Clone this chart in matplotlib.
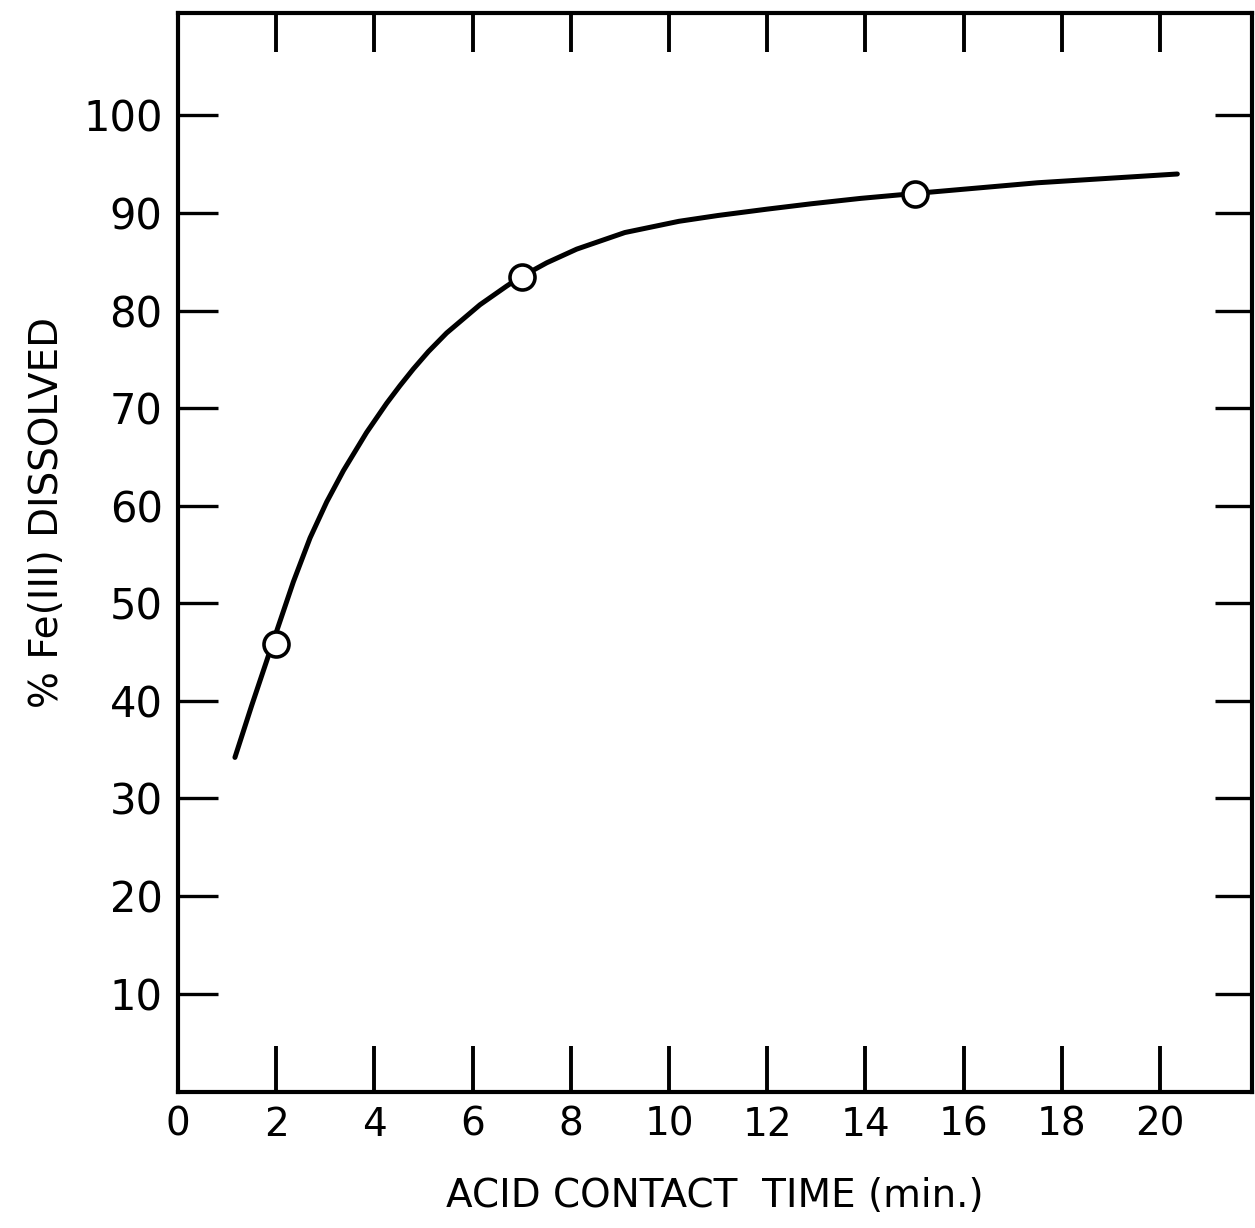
import numpy as np
import matplotlib
matplotlib.use("Agg")
import matplotlib.pyplot as plt

# measured points
pts_x = [2, 7, 15]
pts_y = [45.8, 83.4, 92.0]

# hand drawn curve
curve_x = [1.16, 1.5, 1.8, 2.0, 2.35, 2.69, 3.03, 3.37, 3.84, 4.25, 4.52, 4.79,
           5.1, 5.47, 6.15, 6.69, 6.93, 7.51, 8.12, 9.1, 10.2, 11.0, 12.0,
           12.9, 13.9, 15.0, 17.5, 20.35]
curve_y = [34.2, 39.5, 44.0, 47.0, 52.2, 56.7, 60.4, 63.6, 67.5, 70.5, 72.3, 74.0,
           75.8, 77.7, 80.6, 82.5, 83.3, 84.9, 86.3, 88.0, 89.15, 89.75, 90.4,
           90.95, 91.5, 92.0, 93.1, 94.0]

x_ticks = [0, 2, 4, 6, 8, 10, 12, 14, 16, 18, 20]
y_ticks = [10, 20, 30, 40, 50, 60, 70, 80, 90, 100]

plt.rcParams['font.family'] = ['DejaVu Sans']

fig = plt.figure(figsize=(12.55, 12.28), dpi=100)
ax = fig.add_axes([0.1418, 0.1107, 0.8558, 0.8787])

ax.plot(curve_x, curve_y, color='k', lw=3.6, solid_capstyle='round',
        solid_joinstyle='round', zorder=2)
ax.plot(pts_x, pts_y, 'o', ms=18, mfc='white', mec='k', mew=2.6, zorder=3)

ax.set_xlim(0, 21.87)
ax.set_ylim(-0.1, 110.5)

for s in ax.spines.values():
    s.set_linewidth(3.0)

ax.set_xticks(x_ticks)
ax.set_xticklabels([str(v) for v in x_ticks], fontsize=28)
ax.set_yticks(y_ticks)
ax.set_yticklabels([str(v) for v in y_ticks], fontsize=30)
ax.tick_params(axis='x', direction='in', length=33, width=2.8, pad=10)
ax.tick_params(axis='y', direction='in', length=29, width=2.4, pad=11)

top = ax.secondary_xaxis('top')
top.set_xticks(x_ticks)
top.tick_params(direction='in', length=28, width=2.8, labeltop=False)
right = ax.secondary_yaxis('right')
right.set_yticks(y_ticks)
right.tick_params(direction='in', length=27, width=2.4, labelright=False)

ax.set_xlabel('ACID CONTACT  TIME (min.)', fontsize=28, labelpad=24)
ax.set_ylabel('% Fe(III) DISSOLVED', fontsize=28)
ax.yaxis.set_label_coords(-0.104, 0.5375)

fig.savefig('out.png', dpi=100, facecolor='white')
